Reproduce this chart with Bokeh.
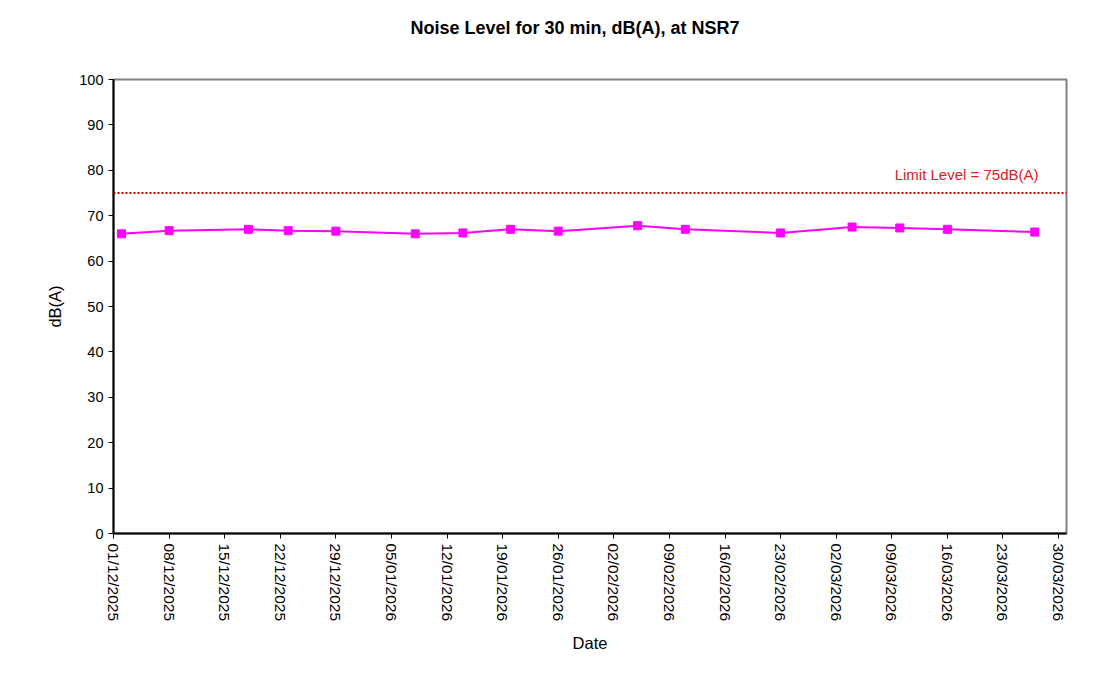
from datetime import datetime, timedelta
import math
from bokeh.plotting import figure
from bokeh.models import (Range1d, FixedTicker, DatetimeTickFormatter, Span, Label,
                          ColumnDataSource, Title)
from bokeh.embed import file_html
from bokeh.resources import INLINE

# ---- data ----
dates = ["02/12/2025", "08/12/2025", "18/12/2025", "23/12/2025", "29/12/2025",
         "08/01/2026", "14/01/2026", "20/01/2026", "26/01/2026", "05/02/2026",
         "11/02/2026", "23/02/2026", "04/03/2026", "10/03/2026", "16/03/2026",
         "27/03/2026"]
levels = [66.0, 66.7, 67.0, 66.7, 66.6, 66.0, 66.2, 67.0, 66.6, 67.8,
          67.0, 66.2, 67.5, 67.3, 67.0, 66.4]
limit_level = 75
tick_start = "01/12/2025"
tick_step_days = 7
n_ticks = 18
x_end = "31/03/2026"
y_ticks = list(range(0, 101, 10))

title_text = "Noise Level for 30 min, dB(A), at NSR7"
limit_text = "Limit Level  = 75dB(A)"
label_date = "28/03/2026"

def parse(s):
    return datetime.strptime(s, "%d/%m/%Y")

x_dates = [parse(d) for d in dates]
t0 = parse(tick_start)
ticks_ms = [(t0 + timedelta(days=tick_step_days * i) - datetime(1970, 1, 1)).total_seconds() * 1000
            for i in range(n_ticks)]

FONT = "Liberation Sans"

p = figure(width=1104, height=670, x_axis_type="datetime",
           x_range=Range1d(t0, parse(x_end)), y_range=Range1d(0, 100),
           output_backend="svg", toolbar_location=None,
           min_border_left=113, min_border_right=38, min_border_top=79,
           min_border_bottom=137)

p.title = None
p.add_layout(Title(text=" ", text_font_size="22px"), "above")
p.add_layout(Title(text=title_text, text_font=FONT, text_font_size="18px",
                   text_font_style="bold", align="left", offset=297,
                   text_color="black"), "above")

p.xgrid.visible = False
p.ygrid.visible = False
p.outline_line_color = "#808080"
p.outline_line_width = 2
p.background_fill_color = "white"
p.border_fill_color = "white"

# y axis
p.yaxis.ticker = FixedTicker(ticks=y_ticks)
p.yaxis.axis_label = "dB(A)"
p.yaxis.axis_label_text_font = FONT
p.yaxis.axis_label_text_font_size = "16.5px"
p.yaxis.axis_label_text_font_style = "normal"
p.yaxis.axis_label_text_color = "black"
p.yaxis.axis_label_standoff = 12
p.yaxis.major_label_text_font = FONT
p.yaxis.major_label_text_font_size = "14.5px"
p.yaxis.major_label_text_color = "black"
p.yaxis.axis_line_color = "black"
p.yaxis.axis_line_width = 2
p.yaxis.major_tick_in = 0
p.yaxis.major_tick_out = 5
p.yaxis.minor_tick_line_color = None

# x axis
p.xaxis.ticker = FixedTicker(ticks=ticks_ms)
fmt = "%d/%m/%Y"
p.xaxis.formatter = DatetimeTickFormatter(milliseconds=fmt, seconds=fmt, minsec=fmt,
                                          minutes=fmt, hourmin=fmt, hours=fmt, days=fmt,
                                          months=fmt, years=fmt)
p.xaxis.major_label_orientation = -math.pi / 2
p.xaxis.axis_label = "Date"
p.xaxis.axis_label_text_font = FONT
p.xaxis.axis_label_text_font_size = "16.5px"
p.xaxis.axis_label_text_font_style = "normal"
p.xaxis.axis_label_text_color = "black"
p.xaxis.axis_label_standoff = 10
p.xaxis.major_label_text_font = FONT
p.xaxis.major_label_text_font_size = "15.5px"
p.xaxis.major_label_text_color = "black"
p.xaxis.axis_line_color = "black"
p.xaxis.axis_line_width = 2
p.xaxis.major_tick_in = 0
p.xaxis.major_tick_out = 5
p.xaxis.minor_tick_line_color = None

# limit line
p.add_layout(Span(location=limit_level, dimension="width", line_color="#C00000",
                  line_dash="2 2", line_width=2))
p.add_layout(Label(x=parse(label_date), y=limit_level, text=limit_text,
                   text_align="right", text_baseline="bottom", y_offset=10,
                   text_font=FONT, text_font_size="15px", text_color="#E0201F"))

src = ColumnDataSource(dict(x=x_dates, y=levels))
p.line("x", "y", source=src, line_color="#FF00FF", line_width=2)
p.scatter("x", "y", source=src, marker="square", size=8, fill_color="#FF00FF",
          line_color="#FF00FF")

open("out.html", "w").write(file_html(p, INLINE))
